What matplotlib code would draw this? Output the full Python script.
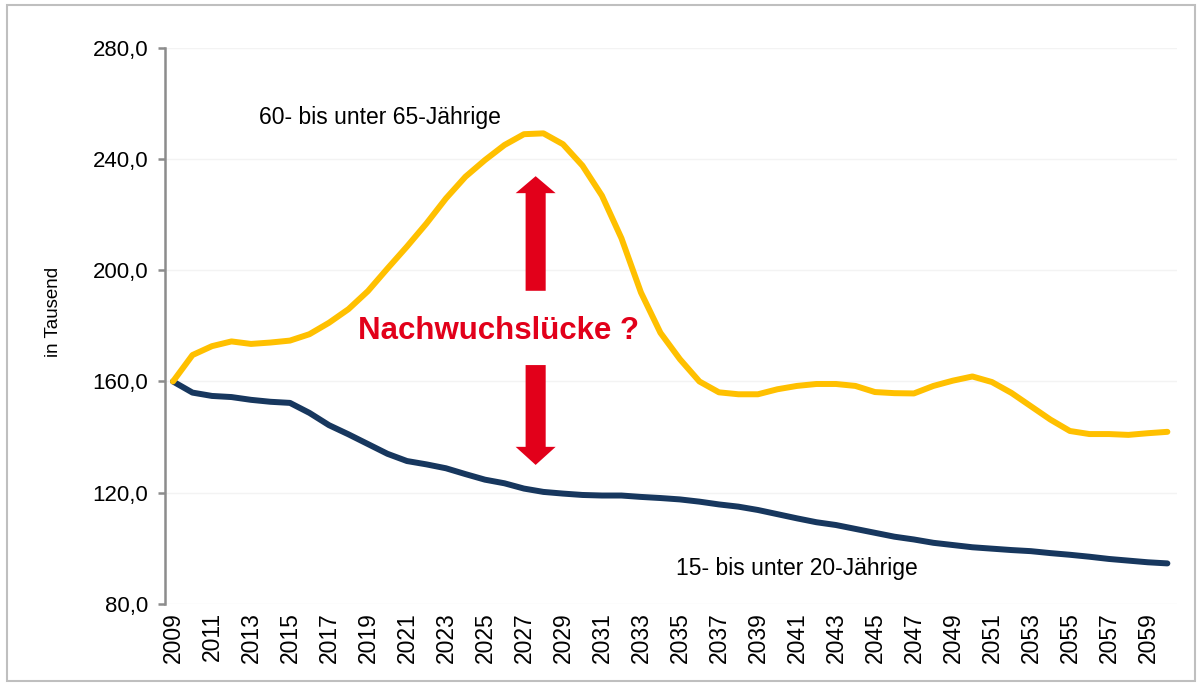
import numpy as np
import matplotlib
matplotlib.use("Agg")
import matplotlib.pyplot as plt
from matplotlib.patches import Rectangle
from matplotlib.ticker import FuncFormatter

plt.rcParams['font.family'] = ['Liberation Sans', 'DejaVu Sans']

# data (in Tausend)
years = list(range(2009, 2061))
age_60_65 = [160.0, 169.5, 172.7, 174.4, 173.5, 174.0, 174.7, 177.0, 181.1, 186.0,
             192.5, 200.6, 208.5, 216.8, 225.8, 233.6, 239.6, 245.0, 248.9, 249.2,
             245.3, 237.6, 226.8, 211.5, 192.0, 177.5, 168.0, 160.0, 156.1, 155.4,
             155.4, 157.2, 158.4, 159.1, 159.1, 158.4, 156.2, 155.8, 155.7, 158.4,
             160.3, 161.8, 159.8, 155.9, 151.1, 146.3, 142.2, 141.1, 141.1, 140.8,
             141.4, 141.9]
age_15_20 = [160.0, 156.0, 154.8, 154.4, 153.4, 152.7, 152.3, 148.7, 144.3, 141.0,
             137.5, 134.0, 131.4, 130.2, 128.8, 126.7, 124.7, 123.4, 121.5, 120.3,
             119.7, 119.2, 119.0, 119.0, 118.5, 118.1, 117.6, 116.8, 115.8, 115.0,
             113.8, 112.3, 110.8, 109.4, 108.4, 107.0, 105.6, 104.2, 103.2, 102.0,
             101.2, 100.4, 99.9, 99.4, 99.0, 98.3, 97.7, 97.0, 96.2, 95.6,
             95.0, 94.6]
y_ticks = [80, 120, 160, 200, 240, 280]
x_ticks = years[::2]

yellow = '#FFC000'
navy = '#17375E'
red = '#E2001A'

fig = plt.figure(figsize=(11.99, 6.87), dpi=100)
ax = fig.add_axes([0.1376, 0.1208, 0.844, 0.8098])

ax.plot(years, age_15_20, color=navy, lw=4.3, solid_capstyle='round', zorder=3)
ax.plot(years, age_60_65, color=yellow, lw=4.3, solid_capstyle='round', zorder=4)

ax.set_xlim(2008.59, 2060.49)
ax.set_ylim(80, 280)
ax.set_yticks(y_ticks)
ax.yaxis.set_major_formatter(FuncFormatter(lambda v, p: f"{v:.1f}".replace('.', ',')))
ax.set_xticks(x_ticks)
ax.set_xticklabels([str(y) for y in x_ticks], rotation=90)

for s in ['top', 'right', 'bottom']:
    ax.spines[s].set_visible(False)
ax.spines['left'].set_color('#8c8c8c')
ax.spines['left'].set_linewidth(1.8)
ax.tick_params(axis='y', length=5, width=1.8, color='#8c8c8c', pad=7, labelsize=16)
ax.tick_params(axis='x', length=0, pad=6, labelsize=16.5)
ax.grid(axis='y', color='#f3f3f3', lw=1)
ax.set_axisbelow(True)

ax.set_ylabel('in Tausend', fontsize=13.5)
ax.yaxis.set_label_coords(-0.102, 0.525)

# series labels
ax.text(2013.4, 255.0, '60- bis unter 65-Jährige', fontsize=16.5, va='center', ha='left')
ax.text(2034.8, 92.9, '15- bis unter 20-Jährige', fontsize=16.5, va='center', ha='left')

# gap arrows
ax.arrow(2027.6, 192.6, 0, 41.2, width=1.03, head_width=2.05, head_length=6.1,
         length_includes_head=True, color=red, lw=0, zorder=5)
ax.arrow(2027.6, 165.9, 0, -35.9, width=1.03, head_width=2.05, head_length=6.5,
         length_includes_head=True, color=red, lw=0, zorder=5)
ax.text(2025.7, 178.1, 'Nachwuchslücke ?', color=red, fontsize=22.5, fontweight='bold',
        ha='center', va='center', zorder=6)

# outer frame
fig.patches.append(Rectangle((7 / 1199, 1 - 681 / 687), 1188 / 1199, 676 / 687,
                             transform=fig.transFigure, fill=False,
                             edgecolor='#bfbfbf', lw=1.5))

fig.savefig('out.png', dpi=100)
